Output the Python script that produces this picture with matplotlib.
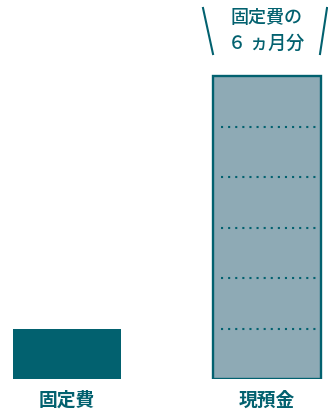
import matplotlib.pyplot as plt
from matplotlib.lines import Line2D

plt.rcParams['font.family'] = ['Noto Sans CJK JP', 'DejaVu Sans']

# data
categories = ['固定費', '現預金']
values = [1, 6]          # 現預金 = 固定費の６ヵ月分
note_lines = ['固定費の', '６ ヵ月分']

teal = '#02616f'
light = '#8eaab5'

fig = plt.figure(figsize=(3.28, 4.12), dpi=100)
ax = fig.add_axes([0, 33 / 412, 1, 379 / 412])
ax.set_xlim(-0.336, 1.308)
ax.set_ylim(0, 7.505)
ax.axis('off')

x = [0, 1]
w = 0.541
ax.bar(x[0], values[0], width=w, color=teal, linewidth=0)
ax.bar(x[1], values[1], width=w, color=light, edgecolor=teal, linewidth=1.7)

# dotted separators inside the cash bar, one per month
for k in range(1, values[1]):
    ax.plot([x[1] - w / 2 + 0.04, x[1] + w / 2 - 0.025], [k, k], color=teal,
            linewidth=1.5, linestyle=(0, (1.0, 2.41)), solid_capstyle='butt')

# category labels under the bars
for xi, lab in zip(x, categories):
    fig.text((xi + 0.336) / 1.644, 12 / 412, lab, ha='center', va='center',
             fontsize=13.5, fontweight='bold', color=teal)

# note above the cash bar
cx = (x[1] + 0.336) / 1.644
fig.text(cx, 1 - 18 / 412, note_lines[0], ha='center', va='center',
         fontsize=13, fontweight='medium', color=teal)
fig.text(cx, 1 - 44 / 412, note_lines[1], ha='center', va='center',
         fontsize=13, fontweight='medium', color=teal)

# the two slanted strokes framing the note
fig.add_artist(Line2D([203 / 328, 213 / 328], [1 - 8 / 412, 1 - 54 / 412],
                      color=teal, linewidth=1.5))
fig.add_artist(Line2D([327 / 328, 320 / 328], [1 - 8 / 412, 1 - 54 / 412],
                      color=teal, linewidth=1.5))

fig.savefig('out.png', dpi=100)
